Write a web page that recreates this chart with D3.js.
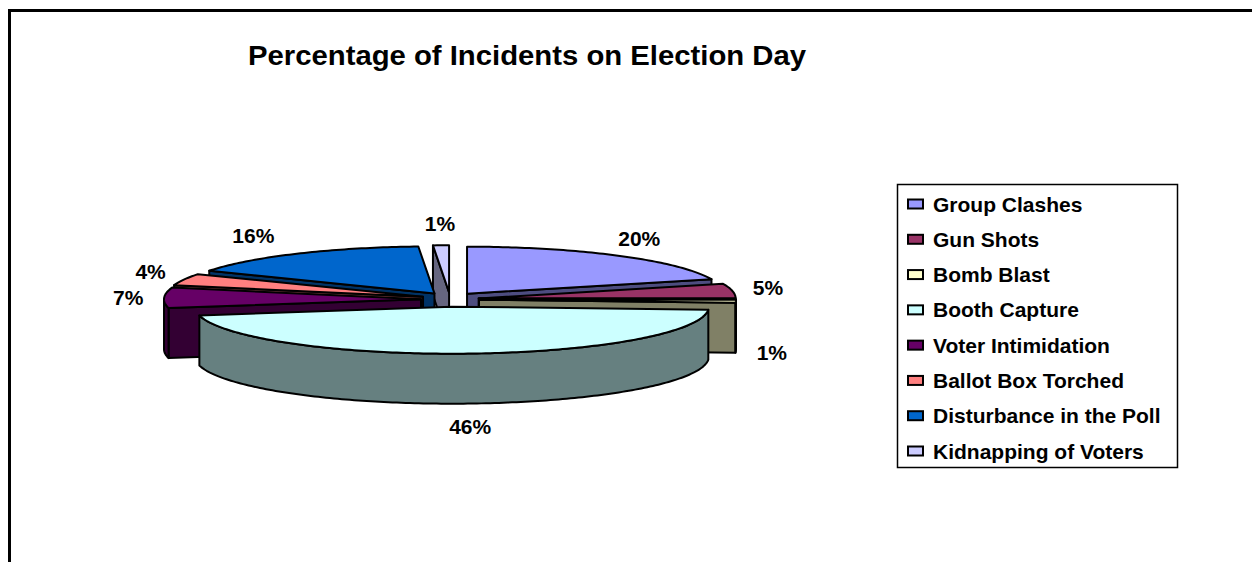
<!DOCTYPE html>
<html>
<head>
<meta charset="utf-8">
<script src="https://cdn.jsdelivr.net/npm/d3@7"></script>
<style>
  html, body { margin: 0; padding: 0; background: #fff; overflow: hidden; }
  svg { display: block; }
  text { font-family: Arial, "Liberation Sans", sans-serif; font-weight: bold; fill: #000; }
</style>
</head>
<body>
<svg id="chart" width="1252" height="562"></svg>
<script>
// Incident categories, their shares (%) and slice colours
const categories = [
  "Group Clashes", "Gun Shots", "Bomb Blast", "Booth Capture",
  "Voter Intimidation", "Ballot Box Torched", "Disturbance in the Poll", "Kidnapping of Voters"
];
const values = [20, 5, 1, 46, 7, 4, 16, 1];
const colors = ["#9999FF", "#993366", "#FFFFCC", "#CCFFFF", "#660066", "#FF8080", "#0066CC", "#CCCCFF"];
const title = "Percentage of Incidents on Election Day";

const W = 1252, H = 562;
const svg = d3.select("#chart");

// Outer chart frame (extends past the right and bottom edges)
svg.append("rect")
  .attr("x", 9.5).attr("y", 10.5)
  .attr("width", 1400).attr("height", 700)
  .attr("fill", "#fff").attr("stroke", "#000").attr("stroke-width", 3);

svg.append("text")
  .attr("x", 527).attr("y", 65)
  .attr("text-anchor", "middle")
  .attr("textLength", 558).attr("lengthAdjust", "spacingAndGlyphs")
  .style("font-size", "28px")
  .text(title);

// 3D pie geometry
const cx = 450, cy = 299.5;   // centre of the (unexploded) top face
const rx = 257, ry = 47;      // ellipse radii of the top face
const depth = 50;             // thickness of the pie
const explodeX = 29, explodeY = 7.2;

const pie = d3.pie().sort(null).value(d => d.value).startAngle(0).endAngle(2 * Math.PI);
const data = categories.map((c, i) => ({ name: c, value: values[i], color: colors[i] }));
const arcs = pie(data);

const shade = c => { const r = d3.rgb(c); return d3.rgb(r.r * 0.5, r.g * 0.5, r.b * 0.5).formatHex(); };

function pt(o, a, h = 0) {
  return [o[0] + rx * Math.sin(a), o[1] - ry * Math.cos(a) + h];
}
function arcPoints(o, a0, a1, h = 0) {
  const n = Math.max(2, Math.ceil(Math.abs(a1 - a0) / (Math.PI / 180)));
  const pts = [];
  for (let i = 0; i <= n; i++) pts.push(pt(o, a0 + (a1 - a0) * i / n, h));
  return pts;
}
const line = d3.line();

arcs.forEach(d => {
  d.mid = (d.startAngle + d.endAngle) / 2;
  d.o = [cx + explodeX * Math.sin(d.mid), cy - explodeY * Math.cos(d.mid)];
});

// back slices first, front slices last
const order = arcs.slice().sort((a, b) => (-Math.cos(a.mid)) - (-Math.cos(b.mid)));

const pieG = svg.append("g");
order.forEach(d => {
  const g = pieG.append("g");
  const side = shade(d.data.color);
  const a0 = d.startAngle, a1 = d.endAngle, o = d.o;
  const oB = [o[0], o[1] + depth];

  // start radial wall, faces the viewer when sin(a0) < 0
  if (Math.sin(a0) < -1e-6) {
    const p = [o, pt(o, a0), pt(o, a0, depth), oB];
    g.append("path").attr("d", line(p) + "Z").attr("fill", side);
  }
  // end radial wall, faces the viewer when sin(a1) > 0
  if (Math.sin(a1) > 1e-6) {
    const p = [o, pt(o, a1), pt(o, a1, depth), oB];
    g.append("path").attr("d", line(p) + "Z").attr("fill", side);
  }
  // front part of the curved outer wall
  const s = Math.max(a0, Math.PI / 2), e = Math.min(a1, 3 * Math.PI / 2);
  if (e > s) {
    const top = arcPoints(o, s, e);
    const bot = arcPoints(o, e, s, depth);
    g.append("path").attr("d", line(top.concat(bot)) + "Z").attr("fill", side);
  }
  // top face
  const tp = [o].concat(arcPoints(o, a0, a1));
  g.append("path").attr("d", line(tp) + "Z").attr("fill", d.data.color);

  g.selectAll("path")
    .attr("stroke", "#000").attr("stroke-width", 2)
    .attr("stroke-linejoin", "round");
});

// percentage labels
const lrx = 322, lry = 76;
svg.append("g").selectAll("text").data(arcs).join("text")
  .attr("x", d => cx + lrx * Math.sin(d.mid) * (Math.sin(d.mid) < -0.3 && Math.cos(d.mid) > 0.5 ? 1.14 : 1))
  .attr("y", d => cy - lry * Math.cos(d.mid) + (Math.cos(d.mid) < 0 ? depth + 1 : 0))
  .attr("text-anchor", "middle")
  .attr("dominant-baseline", "central")
  .style("font-size", "21px")
  .text(d => d3.format(".0%")(d.data.value / 100));

// legend
const lg = svg.append("g");
lg.append("rect")
  .attr("x", 897.5).attr("y", 184.5).attr("width", 280).attr("height", 283)
  .attr("fill", "#fff").attr("stroke", "#000").attr("stroke-width", 1.5);
const ly = d3.scalePoint().domain(categories).range([204, 451]);
const items = lg.selectAll("g.item").data(data).join("g").attr("class", "item")
  .attr("transform", d => `translate(0,${ly(d.name)})`);
items.append("rect")
  .attr("x", 908).attr("y", -4.5).attr("width", 15).attr("height", 9)
  .attr("fill", d => d.color).attr("stroke", "#000").attr("stroke-width", 2);
items.append("text")
  .attr("x", 933).attr("y", 0)
  .attr("dominant-baseline", "central")
  .style("font-size", "21px")
  .text(d => d.name);
</script>
</body>
</html>
